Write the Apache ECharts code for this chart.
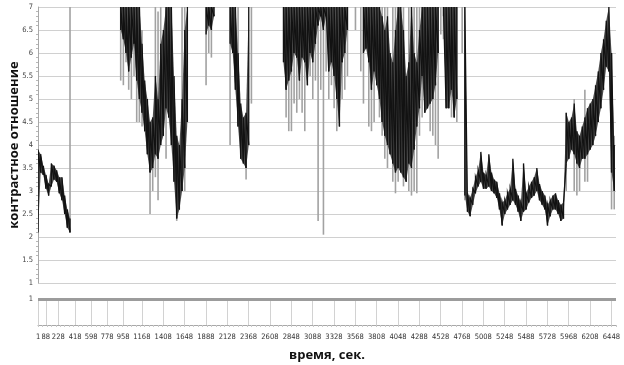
<!DOCTYPE html>
<html>
<head>
<meta charset="utf-8">
<script src="https://cdn.jsdelivr.net/npm/echarts@6/dist/echarts.min.js"></script>
<style>
  html, body { margin: 0; padding: 0; background: #fff; }
  #chart { width: 624px; height: 365px; }
</style>
</head>
<body>
<div id="chart"></div>
<script>
// Contrast ratio record: each sample covers 30 s and holds the range (low..high)
// swept by the signal inside it. Values above 7 are clipped by the axis.
const sampleStep = 30;

const bandLow = [
  2.1, 3.4, 3.35, 3.05, 2.9, 3.1, 3.25, 3.2, 2.95, 2.8, 2.5, 2.2, 2.1,
  null, null, null, null, null, null, null, null, null, null, null, null, null, null, null, null, null, null,
  6.5, 6.3, 6.0, 5.6, 5.9, 6.2, 5.4, 5.0, 4.7, 4.3, 3.8, 3.4, 3.5, 3.8, 3.7, 4.0, 4.2, 4.8, 4.6, 4.0, 3.2, 2.4, 2.6, 3.0, 3.5, 4.5,
  null, null, null, null, null, null,
  6.4, 6.6, 6.5, 6.8,
  null, null, null, null, null,
  6.2, 6.0, 5.2, 4.4, 3.7, 3.6, 3.5, 4.0,
  null, null, null, null, null, null, null, null, null, null, null, null,
  5.8, 5.2, 5.4, 5.6, 6.0, 5.9, 5.4, 5.9, 5.8, 5.3, 6.0, 5.8, 6.2, 6.6, 6.8, 6.5, 6.8, 5.6, 5.8, 5.5, 5.0, 4.4, 5.8, 6.0, 6.5,
  null, null, null, null, null,
  6.0, 6.1, 5.8, 5.2, 5.6, 5.3, 5.0, 4.5, 4.2, 4.0, 3.8, 3.6, 3.4, 3.5, 3.4, 3.3, 3.2, 3.6, 3.5, 3.9, 4.4, 4.8, 5.5, 4.7, 4.8, 4.9, 5.0, 5.3, 6.0,
  null,
  6.8, 4.8, 4.8, 5.2, 4.6, 5.0,
  null, null,
  2.9,
  2.55, 2.45, 2.7, 2.95, 3.1, 3.2, 3.05, 3.05, 3.1, 3.0, 2.95, 2.85, 2.6, 2.25, 2.5, 2.6, 2.7, 2.8, 2.7, 2.55,
  2.35, 2.55, 2.6, 2.75, 2.85, 2.9, 3.0, 2.8, 2.7, 2.6, 2.25, 2.45, 2.6, 2.6, 2.5, 2.35, 2.4,
  3.6, 3.7, 3.9, 3.8, 3.6, 3.5, 3.7, 3.7, 3.8, 3.9, 4.0, 4.2, 4.5, 4.8, 5.2, 5.7, 5.6, 3.4, 3.0
];

const bandHigh = [
  3.9, 3.8, 3.55, 3.35, 3.15, 3.6, 3.55, 3.45, 3.3, 3.3, 2.9, 2.6, 2.4,
  null, null, null, null, null, null, null, null, null, null, null, null, null, null, null, null, null, null,
  7, 7, 7, 7, 7, 7, 7, 7, 6.2, 5.4, 5.0, 4.5, 4.6, 5.5, 5.0, 6.2, 6.5, 7, 7, 7, 5.5, 4.2, 4.0, 5.0, 6.5, 7,
  null, null, null, null, null, null,
  7, 7, 7, 7,
  null, null, null, null, null,
  7, 7, 7, 6.0, 4.9, 4.6, 4.7, 7,
  null, null, null, null, null, null, null, null, null, null, null, null,
  7, 7, 7, 7, 7, 7, 7, 7, 7, 7, 7, 7, 7, 7, 7, 7, 7, 7, 7, 7, 7, 7, 7, 7, 7,
  null, null, null, null, null,
  7, 7, 7, 7, 7, 7, 7, 6.8, 6.5, 6.8, 6.0, 5.8, 6.5, 7, 7, 6.5, 5.5, 5.8, 7, 6.0, 5.8, 6.5, 7, 7, 7, 7, 7, 7, 7,
  null,
  7, 7, 7, 7, 7, 7,
  null, null,
  7,
  2.95, 2.85, 3.05, 3.3, 3.45, 3.85, 3.4, 3.35, 3.8, 3.4, 3.25, 3.2, 2.95, 2.75, 2.8, 2.95, 3.05, 3.7, 3.05, 2.9,
  2.75, 3.6, 2.95, 3.1, 3.2, 3.3, 3.5, 3.15, 3.0, 2.9, 2.7, 2.8, 2.9, 2.95, 2.8, 2.7, 2.75,
  4.7, 4.5, 4.6, 4.9, 4.3, 4.2, 4.4, 4.6, 4.8, 4.9, 5.0, 5.3, 5.6, 6.0, 6.3, 6.7, 7.0, 6.0, 4.0
];

// Isolated excursions (sample number, low, high)
const spikeAt = [
  12, 31, 32, 33, 34, 35, 36, 37, 38, 39, 42, 43, 44, 45, 46, 48, 52, 54, 55,
  63, 64, 65, 72, 75, 78, 80,
  93, 94, 95, 96, 97, 98, 99, 100, 102, 103, 104, 105, 106, 107, 108, 109, 110, 111, 112, 114, 115, 116,
  119, 121, 122, 124, 125, 126, 128, 129, 130, 131, 133, 134, 135, 137, 139, 140, 141, 142, 143, 144,
  147, 148, 149, 150, 151, 152, 155, 157, 159, 160,
  198, 201, 202, 203, 205, 206, 215, 216
];
const spikeLow = [
  2.1, 5.4, 5.3, 5.8, 5.2, 5.0, 5.5, 4.5, 4.5, 4.4, 2.5, 3.0, 3.3, 2.8, 4.6, 3.7, 2.35, 3.0, 3.0,
  5.3, 6.0, 5.9, 4.0, 4.4, 3.25, 4.9,
  4.6, 4.3, 4.3, 4.9, 4.7, 5.0, 4.7, 4.3, 5.5, 5.0, 5.4, 2.35, 5.2, 2.05, 5.6, 5.0, 5.3, 4.8, 4.3, 5.0, 5.2, 5.5,
  6.5, 5.6, 4.9, 4.4, 4.3, 4.5, 4.6, 4.2, 3.7, 3.5, 3.2, 2.95, 3.2, 3.1, 3.0, 2.9, 3.0, 2.95, 4.2, 4.6,
  4.3, 4.2, 4.0, 3.7, 6.4, 6.3, 4.6, 4.5, 6.0, 2.8,
  3.0, 3.0, 2.9, 3.0, 3.2, 3.2, 2.6, 2.6
];
const spikeHigh = [
  7, 7, 7, 7, 7, 7, 7, 7, 7, 6.5, 4.5, 4.6, 7, 6.9, 7, 7, 4.2, 7, 7,
  7, 7, 7, 7, 7, 4.7, 7,
  7, 7, 7, 7, 7, 7, 7, 7, 7, 7, 7, 7, 7, 7, 7, 7, 7, 7, 7, 7, 7, 7,
  7, 7, 7, 7, 7, 7, 7, 7, 7, 7, 7, 7, 7, 7, 7, 7, 7, 7, 7, 7,
  7, 7, 7, 7, 7, 7, 7, 7, 7, 7,
  4.7, 5.0, 4.3, 4.2, 5.2, 4.8, 6.0, 4.2
];

// Time axis labels, seconds
const tickTimes = [
  1, 88, 228, 418, 598, 778, 958, 1168, 1408, 1648, 1888, 2128, 2368, 2608, 2848,
  3088, 3328, 3568, 3808, 4048, 4288, 4528, 4768, 5008, 5248, 5488, 5728, 5968, 6208, 6448
];

// Reference level drawn in the lower strip
const stripLevel = 1;

// Each band item also carries the next sample's range so the trace is continuous.
const bandData = [];
bandLow.forEach((lo, i) => {
  const hi = bandHigh[i];
  if (lo == null || hi == null) return;
  const hasNext = bandLow[i + 1] != null && bandHigh[i + 1] != null;
  bandData.push([i * sampleStep, lo, hi, hasNext ? bandLow[i + 1] : null, hasNext ? bandHigh[i + 1] : null]);
});
const spikeData = spikeAt.map((s, k) => [s * sampleStep, spikeLow[k], spikeHigh[k]]);

function isNum(v) { return v != null && !isNaN(v); }

// Envelope (dark grey) between this sample and the next, with the black trace
// rising through the sample's range and falling to the next sample's low.
function traceItem(params, api) {
  const t = api.value(0);
  const pLo = api.coord([t, api.value(1)]);
  const pHi = api.coord([t, api.value(2)]);
  const nLo = api.value(3), nHi = api.value(4);
  const children = [];
  const trace = [pLo, pHi];
  if (isNum(nLo) && isNum(nHi)) {
    const qLo = api.coord([t + sampleStep, nLo]);
    const qHi = api.coord([t + sampleStep, nHi]);
    children.push({
      type: 'polygon',
      shape: { points: [pLo, pHi, qHi, qLo] },
      style: { fill: '#4c4c4c' }
    });
    trace.push(qLo);
  }
  children.push({
    type: 'polyline',
    shape: { points: trace },
    style: { stroke: '#121212', lineWidth: 1.3, fill: null }
  });
  return { type: 'group', children };
}

function spikeItem(params, api) {
  const t = api.value(0);
  const pLo = api.coord([t, api.value(1)]);
  const pHi = api.coord([t, api.value(2)]);
  return {
    type: 'line',
    shape: { x1: pLo[0], y1: pLo[1], x2: pHi[0], y2: pHi[1] },
    style: { stroke: '#a2a2a2', lineWidth: 1.6 }
  };
}

const narrowFont = "'Liberation Sans Narrow', 'DejaVu Sans Condensed', 'Liberation Sans', sans-serif";
const titleFont = "'Open Sans', 'Noto Sans', sans-serif";

const chart = echarts.init(document.getElementById('chart'), null, { renderer: 'canvas' });
chart.setOption({
  animation: false,
  backgroundColor: '#ffffff',
  grid: [
    { left: 38, right: 8, top: 7, height: 276, containLabel: false, outerBoundsMode: 'none' },
    { left: 38, right: 8, top: 299, height: 26, containLabel: false, outerBoundsMode: 'none' }
  ],
  xAxis: [
    { gridIndex: 0, type: 'value', min: 0, max: 6500, show: false },
    {
      gridIndex: 1, type: 'value', min: 0, max: 6500, interval: 50,
      axisLine: { show: true, lineStyle: { color: '#a8a8a8', width: 1 } },
      axisTick: { show: true, length: 2, lineStyle: { color: '#c8c8c8' } },
      axisLabel: {
        customValues: tickTimes,
        formatter: v => String(v),
        fontFamily: narrowFont, fontSize: 7.5, color: '#333', margin: 8
      },
      splitLine: { show: false },
      name: 'время, сек.',
      nameLocation: 'middle',
      nameGap: 24,
      nameTextStyle: { fontFamily: titleFont, fontSize: 13, fontWeight: 'bold', color: '#111' }
    }
  ],
  yAxis: [
    {
      gridIndex: 0, type: 'value', min: 1, max: 7, interval: 0.5,
      axisLine: { show: true, lineStyle: { color: '#a8a8a8' } },
      axisTick: { show: false },
      minorTick: { show: true, splitNumber: 5, length: 2, lineStyle: { color: '#b8b8b8' } },
      axisLabel: { fontFamily: narrowFont, fontSize: 7.5, color: '#444', margin: 5 },
      splitLine: { show: true, lineStyle: { color: '#d0d0d0', width: 1 } },
      name: 'контрастное отношение',
      nameLocation: 'middle',
      nameGap: 17,
      nameMoveOverlap: false,
      nameTextStyle: { fontFamily: titleFont, fontSize: 13, fontWeight: 'bold', color: '#111' }
    },
    {
      gridIndex: 1, type: 'value', min: 0, max: 1, interval: 1,
      axisLine: { show: true, lineStyle: { color: '#a8a8a8' } },
      axisTick: { show: false },
      axisLabel: {
        fontFamily: narrowFont, fontSize: 7.5, color: '#444', margin: 5,
        formatter: v => (v === 0 ? '' : String(v))
      },
      splitLine: { show: false }
    }
  ],
  series: [
    {
      name: 'spikes', type: 'custom', xAxisIndex: 0, yAxisIndex: 0, clip: true,
      renderItem: spikeItem, data: spikeData, z: 2
    },
    {
      name: 'contrast', type: 'custom', xAxisIndex: 0, yAxisIndex: 0, clip: true,
      renderItem: traceItem, data: bandData, z: 3
    },
    {
      name: 'strip', type: 'line', xAxisIndex: 1, yAxisIndex: 1, data: [],
      markLine: {
        silent: true, symbol: 'none', label: { show: false },
        data: [
          ...tickTimes.map(t => ({ xAxis: t, lineStyle: { color: '#d2d2d2', width: 1, type: 'solid' } })),
          { yAxis: stripLevel, lineStyle: { color: '#9c9c9c', width: 3, type: 'solid' } }
        ]
      }
    }
  ]
});
</script>
</body>
</html>
